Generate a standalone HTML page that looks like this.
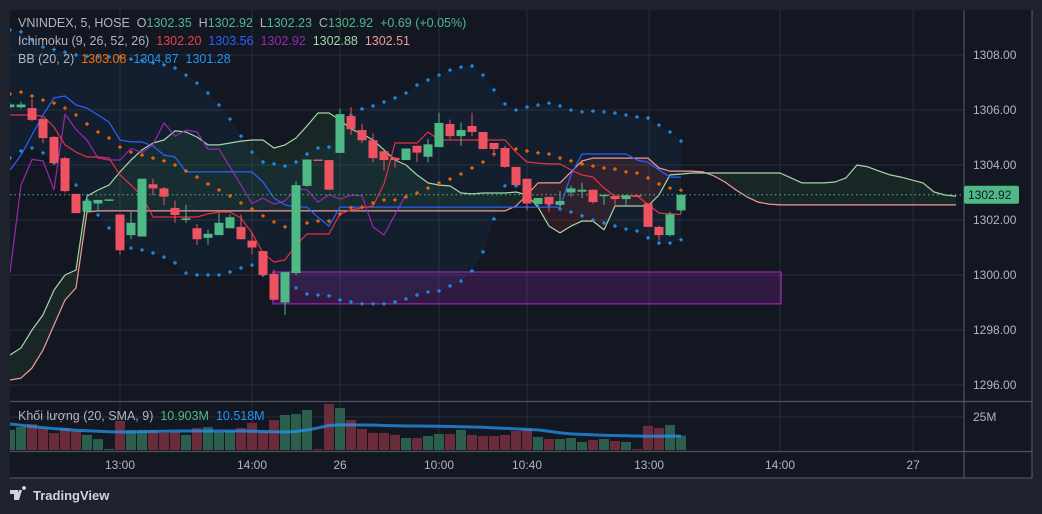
<!DOCTYPE html>
<html><head><meta charset="utf-8"><style>
html,body{margin:0;padding:0;background:#1e222d;width:1042px;height:514px;overflow:hidden}
svg{display:block;font-family:"Liberation Sans",sans-serif}
text{white-space:pre}
</style></head><body>
<svg id="c" width="1042" height="514" viewBox="0 0 1042 514" xmlns="http://www.w3.org/2000/svg">
<rect x="0" y="0" width="1042" height="514" fill="#1e222d"/>
<rect x="10" y="10" width="1022" height="468" fill="#131722"/>
<defs>
<clipPath id="pp"><rect x="10" y="10" width="954" height="391"/></clipPath>
<clipPath id="vp"><rect x="10" y="402" width="954" height="49"/></clipPath>
</defs>
<g id="grid"></g>
<g id="price" clip-path="url(#pp)"></g>
<g id="vol" clip-path="url(#vp)"></g>
<g id="axes"></g>
<g font-size="12.5">
<text x="18" y="27" fill="#b2b5be">VNINDEX, 5, HOSE  O<tspan fill="#4fb985">1302.35</tspan>  H<tspan fill="#4fb985">1302.92</tspan>  L<tspan fill="#4fb985">1302.23</tspan>  C<tspan fill="#4fb985">1302.92</tspan>  <tspan fill="#4fb985">+0.69 (+0.05%)</tspan></text>
<text x="18" y="45" fill="#b2b5be">Ichimoku (9, 26, 52, 26)  <tspan fill="#e8404f">1302.20</tspan>  <tspan fill="#2962ff">1303.56</tspan>  <tspan fill="#9c27b0">1302.92</tspan>  <tspan fill="#a5d6a7">1302.88</tspan>  <tspan fill="#ef9a9a">1302.51</tspan></text>
<text x="18" y="63" fill="#b2b5be">BB (20, 2)  <tspan fill="#ff6d00">1303.08</tspan>  <tspan fill="#2196f3">1304.87</tspan>  <tspan fill="#2196f3">1301.28</tspan></text>
<text x="18" y="420" fill="#b2b5be">Khối lượng (20, SMA, 9)  <tspan fill="#4fb985">10.903M</tspan>  <tspan fill="#2196f3">10.518M</tspan></text>
</g>
<g>
<path d="M10 490h8v10h-4v-6h-4z M19 490h3l-3 10h-3z M24 490a2 2 0 1 1 0.01 0z" fill="#d1d4dc"/>
<text x="33" y="500" fill="#d1d4dc" font-size="13" font-weight="bold">TradingView</text>
</g>
</svg>
<script>
const opens=[1306.1,1306.1,1306.07,1305.67,1305.02,1304.25,1302.95,1302.3,1302.6,1302.73,1302.2,1301.45,1301.4,1303.3,1303.15,1302.44,1302.0,1301.7,1301.35,1301.45,1301.7,1301.75,1301.25,1300.87,1300.04,1299.0,1300.07,1303.24,1304.2,1304.18,1304.44,1305.78,1305.27,1304.9,1304.5,1304.26,1304.18,1304.7,1304.3,1304.65,1305.49,1305.05,1305.42,1305.2,1304.8,1304.62,1303.93,1303.5,1302.58,1302.84,1302.55,1303.0,1303.03,1303.1,1302.9,1302.87,1302.76,1302.9,1302.6,1301.75,1301.45,1302.35];
const highs=[1306.25,1306.3,1306.4,1305.7,1305.05,1304.3,1302.95,1302.95,1302.73,1302.75,1302.2,1302.3,1303.5,1303.5,1303.2,1302.7,1302.55,1301.85,1301.65,1302.25,1302.2,1302.2,1301.55,1300.87,1300.2,1300.1,1303.42,1303.5,1304.2,1304.18,1306.05,1306.1,1305.5,1305.15,1304.5,1304.3,1304.6,1304.7,1304.95,1305.9,1305.65,1305.55,1305.9,1305.2,1304.8,1304.7,1303.93,1303.5,1302.8,1302.84,1303.05,1303.25,1303.35,1303.1,1302.9,1302.87,1302.9,1302.92,1302.6,1301.8,1302.3,1302.92];
const lows=[1306.05,1306.05,1305.6,1304.8,1304.05,1303.0,1302.25,1302.3,1302.3,1302.7,1300.75,1301.3,1301.4,1302.9,1302.55,1301.9,1301.9,1301.1,1301.1,1301.45,1301.7,1301.3,1300.75,1300.0,1299.1,1298.55,1300.0,1303.2,1304.15,1303.1,1304.44,1305.1,1304.8,1304.1,1303.8,1303.9,1304.18,1304.1,1304.1,1304.65,1304.95,1304.7,1305.05,1304.58,1304.3,1303.9,1303.27,1302.35,1302.45,1302.3,1302.5,1302.85,1302.8,1302.6,1302.55,1302.5,1302.55,1302.85,1301.75,1301.25,1301.4,1302.23];
const closes=[1306.2,1306.2,1305.64,1304.98,1304.07,1303.05,1302.25,1302.7,1302.73,1302.75,1300.9,1301.9,1303.5,1303.15,1302.85,1302.18,1302.06,1301.3,1301.5,1301.9,1302.1,1301.3,1301.0,1300.0,1299.1,1300.1,1303.27,1304.2,1304.15,1303.1,1305.85,1305.3,1304.9,1304.25,1304.18,1304.18,1304.6,1304.45,1304.75,1305.53,1305.05,1305.27,1305.2,1304.58,1304.58,1303.93,1303.27,1302.6,1302.8,1302.58,1302.69,1303.15,1303.1,1302.65,1302.92,1302.76,1302.9,1302.88,1301.75,1301.45,1302.2,1302.92];
const volumes=[15.2,17.4,19.7,16.7,12.9,16.7,14.4,11.4,8.3,0.8,22,15.2,15.2,15.2,12.9,13.6,11.4,16.7,17.4,13.6,14.4,16.7,20.5,13.6,22.7,26.5,27.3,30.3,0.8,34.9,31.8,22.7,15.9,12.9,12.9,11.4,9.1,9.1,10.6,12.1,12.1,15.2,11.4,10.6,10.6,11.4,14.4,15.9,9.9,8.3,8.3,9.1,6.1,7.6,8.3,6.8,6.1,0.8,18.2,16.7,19,10.9];
const volMA=[19.7,18.8,17.8,17,16.2,15.6,15,14.6,14.2,13.8,13.6,13.6,13.8,14,14.2,14.4,14.4,14.4,14.4,14.4,14.4,14.4,14.2,14,13.8,13.6,14,15.2,16.7,18.6,19,19,18.9,18.8,18.6,18.4,18.2,18.2,18.1,18,17.8,17.6,17.4,17.2,16.8,16.4,16,15.6,15.2,14.2,13,12.2,11.8,11.5,11.2,11,10.8,10.6,10.4,10.4,10.5,10.52];
const tenkan=[1305.82,1305.82,1305.82,1305.78,1305.38,1304.73,1304.47,1304.29,1304.29,1304.25,1303.64,1303.27,1302.87,1302.11,1302.11,1302.11,1302.11,1302.11,1302.22,1302.29,1302.29,1302.07,1301.53,1300.8,1300.47,1300.55,1301.09,1301.49,1301.49,1301.49,1302.22,1302.36,1302.44,1302.51,1303.31,1304.8,1304.8,1304.8,1305.2,1304.91,1304.91,1304.91,1304.91,1304.91,1304.91,1304.91,1304.47,1304.11,1304.07,1304.04,1304.04,1303.82,1303.64,1303.56,1303.16,1302.87,1302.87,1302.87,1302.58,1302.25,1302.22,1302.2];
const kijun=[1303.82,1304.36,1305.09,1305.82,1306.44,1306.51,1306.18,1306.07,1305.82,1305.56,1304.91,1304.84,1304.84,1304.69,1304.36,1304.29,1303.75,1303.75,1303.75,1303.75,1303.75,1303.75,1303.75,1303.38,1302.8,1302.55,1302.47,1302.47,1302.1,1301.78,1302.47,1302.47,1302.47,1302.47,1302.47,1302.47,1302.47,1302.47,1302.47,1302.47,1302.47,1302.47,1302.47,1302.47,1302.47,1302.47,1302.47,1302.47,1302.47,1302.47,1302.47,1303.64,1304.4,1304.4,1304.4,1304.4,1304.4,1304.18,1304.1,1303.82,1303.56,1303.56];
const spanA=[1297.09,1297.35,1298.0,1298.55,1299.45,1300.0,1300.18,1302.87,1303.09,1303.27,1303.75,1304.18,1304.55,1304.8,1304.91,1305.24,1305.2,1305.02,1304.73,1304.73,1304.8,1304.87,1304.91,1304.91,1304.62,1304.73,1304.98,1305.42,1305.89,1305.89,1305.64,1305.31,1305.13,1304.91,1304.55,1304.18,1304.0,1303.64,1303.35,1303.27,1303.24,1302.98,1302.95,1302.98,1302.98,1302.98,1303.02,1302.91,1302.47,1301.78,1301.53,1301.78,1301.96,1301.96,1301.64,1302.51,1302.51,1302.51,1302.51,1302.91,1303.64,1303.67,1303.71,1303.71,1303.71,1303.71,1303.71,1303.71,1303.71,1303.71,1303.71,1303.53,1303.35,1303.35,1303.35,1303.38,1303.53,1304.0,1303.93,1303.78,1303.64,1303.56,1303.45,1303.35,1303.02,1302.91,1302.87];
const spanB=[1296.18,1296.25,1296.62,1297.27,1298.18,1299.09,1299.53,1302.29,1302.33,1302.33,1302.33,1302.33,1302.33,1302.33,1302.33,1302.33,1302.33,1302.33,1302.33,1302.33,1302.33,1302.33,1302.33,1302.33,1302.33,1302.33,1302.33,1302.33,1302.33,1302.33,1302.33,1302.33,1302.33,1302.33,1302.33,1302.33,1302.33,1302.33,1302.33,1302.33,1302.33,1302.33,1302.33,1302.33,1302.33,1302.33,1302.51,1302.91,1303.35,1303.35,1303.35,1303.75,1304.15,1304.25,1304.25,1304.25,1304.25,1304.25,1304.25,1303.89,1303.78,1303.78,1303.78,1303.75,1303.6,1303.38,1303.09,1302.84,1302.65,1302.58,1302.55,1302.55,1302.55,1302.55,1302.55,1302.55,1302.55,1302.55,1302.55,1302.55,1302.55,1302.55,1302.55,1302.55,1302.55,1302.55,1302.55];
const bbUpper=[1308.91,1308.84,1308.55,1308.29,1308.2,1308.1,1308.0,1307.95,1307.93,1307.93,1307.93,1307.85,1307.8,1307.72,1307.64,1307.53,1307.27,1306.98,1306.62,1306.18,1305.67,1305.05,1304.47,1304.11,1304.04,1303.96,1304.11,1304.4,1304.62,1304.65,1305.27,1305.82,1306.04,1306.15,1306.29,1306.44,1306.62,1306.91,1307.09,1307.27,1307.45,1307.56,1307.6,1307.27,1306.73,1306.22,1306.0,1306.11,1306.18,1306.25,1306.15,1306.0,1305.93,1305.96,1305.93,1305.89,1305.82,1305.75,1305.71,1305.45,1305.2,1304.87];
const bbBasis=[1306.58,1306.65,1306.51,1306.36,1306.25,1306.07,1305.82,1305.49,1305.2,1304.98,1304.65,1304.47,1304.36,1304.25,1304.15,1304.0,1303.78,1303.56,1303.31,1303.09,1302.87,1302.62,1302.4,1302.15,1301.93,1301.75,1301.89,1301.89,1301.96,1301.96,1302.22,1302.44,1302.47,1302.62,1302.73,1302.73,1302.84,1302.98,1303.16,1303.35,1303.49,1303.67,1303.89,1304.11,1304.4,1304.51,1304.58,1304.51,1304.44,1304.4,1304.25,1304.15,1304.04,1303.96,1303.89,1303.85,1303.75,1303.71,1303.53,1303.31,1303.16,1303.08];
const bbLower=[1304.25,1304.51,1304.62,1304.44,1304.07,1303.64,1303.27,1302.73,1302.18,1301.71,1301.27,1300.98,1300.91,1300.8,1300.65,1300.44,1300.07,1300.0,1300.0,1300.0,1300.11,1300.25,1300.36,1300.0,1299.71,1299.56,1299.53,1299.31,1299.27,1299.24,1299.09,1299.02,1298.95,1298.95,1298.95,1299.02,1299.13,1299.27,1299.38,1299.42,1299.6,1299.78,1300.15,1300.84,1302.04,1303.24,1303.24,1302.91,1302.73,1302.55,1302.4,1302.29,1302.15,1302.0,1301.89,1301.78,1301.67,1301.6,1301.35,1301.16,1301.16,1301.28];
const boxRange=[23.9,70.1];
const boxPrices=[1300.11,1298.95];
const priceTicks=[1308,1306,1304,1302,1300,1298,1296];
const priceTickLabels=["1308.00","1306.00","1304.00","1302.00","1300.00","1298.00","1296.00"];
const timeTickIdx=[10,22,30,39,47,58.1,70,82.1];
const timeTickLabels=["13:00","14:00","26","10:00","10:40","13:00","14:00","27"];
const lastPrice=1302.92;
const volTick=25;

const NS="http://www.w3.org/2000/svg";
const X=i=>10+11*i;
const Y=p=>55+(1308-p)*27.5;
const VY=v=>450-v*33/25;
function mk(t,a,parent){const e=document.createElementNS(NS,t);for(const k in a)e.setAttribute(k,a[k]);parent.appendChild(e);return e;}
const grid=document.getElementById('grid'),price=document.getElementById('price'),vol=document.getElementById('vol'),axes=document.getElementById('axes');

priceTicks.forEach(p=>{const l=mk('line',{x1:10,x2:964,y1:Y(p),y2:Y(p),stroke:'#2a2e39','stroke-width':1},grid);

});
{const l=mk('line',{x1:10,x2:964,y1:VY(volTick),y2:VY(volTick),stroke:'#2a2e39'},grid);

}
timeTickIdx.forEach(i=>{const l=mk('line',{x1:X(i),x2:X(i),y1:10,y2:451,stroke:'#2a2e39'},grid);

});

function poly(arr,off){return arr.map((v,i)=>X(i+off).toFixed(1)+','+Y(v).toFixed(1)).join(' ');}
{const pts=bbUpper.map((v,i)=>X(i)+','+Y(v)).concat(bbLower.map((v,i)=>[X(i),Y(v)]).reverse().map(a=>a.join(','))).join(' ');
const f=mk('polygon',{points:pts,fill:'rgba(33,150,243,0.06)'},price);

}
for(let i=0;i<spanA.length-1;i++){const up=(spanA[i]+spanA[i+1])>=(spanB[i]+spanB[i+1]);
const q=mk('polygon',{points:`${X(i)},${Y(spanA[i])} ${X(i+1)},${Y(spanA[i+1])} ${X(i+1)},${Y(spanB[i+1])} ${X(i)},${Y(spanB[i])}`,fill:up?'rgba(67,160,71,0.12)':'rgba(244,67,54,0.12)'},price);

}
{const r=mk('rect',{x:X(boxRange[0]),y:Y(boxPrices[0]),width:X(boxRange[1])-X(boxRange[0]),height:Y(boxPrices[1])-Y(boxPrices[0]),fill:'rgba(156,39,176,0.22)',stroke:'#9c27b0','stroke-width':1.2},price);

}
function line(arr,off,color,name,w){const l=mk('polyline',{points:poly(arr,off),fill:'none',stroke:color,'stroke-width':w||1.2,'stroke-linejoin':'round'},price);

}
line(spanB,0,'#ef9a9a','leading-span-b');
line(spanA,0,'#a5d6a7','leading-span-a');
line(closes.slice(25),0,'#9c27b0','lagging-span');
line(kijun,0,'#2962ff','kijun-sen');
line(tenkan,0,'#e5323f','tenkan-sen');
{const l=mk('line',{x1:10,x2:964,y1:Y(lastPrice),y2:Y(lastPrice),stroke:'#4fb985','stroke-dasharray':'1.5,3','stroke-width':1},price);

}
function crosses(arr,color,name){arr.forEach((v,i)=>{const x=X(i),y=Y(v);
const c=mk('path',{d:`M${x-2} ${y}h4M${x} ${y-2}v4`,stroke:color,'stroke-width':1.2},price);

});}
crosses(bbUpper,'#2196f3','bb-upper-point');
crosses(bbLower,'#2196f3','bb-lower-point');
crosses(bbBasis,'#ff6d00','bb-basis-point');
opens.forEach((o,i)=>{const c=closes[i],up=c>=o,col=up?'#4fb985':'#ef5261',x=X(i);
const g=mk('g',{},price);


mk('line',{x1:x,x2:x,y1:Y(highs[i]),y2:Y(lows[i]),stroke:col,'stroke-width':1},g);
const t=Y(Math.max(o,c)),b=Y(Math.min(o,c));
mk('rect',{x:x-4.5,y:t,width:9,height:Math.max(1.5,b-t),fill:col},g);});
volumes.forEach((v,i)=>{const up=closes[i]>=opens[i];
const r=mk('rect',{x:X(i)-5,y:VY(v),width:10,height:450-VY(v),fill:up?'#2b5e4d':'#6a2c3b'},vol);

});
{const l=mk('polyline',{points:volMA.map((v,i)=>X(i)+','+VY(v)).join(' '),fill:'none',stroke:'rgba(33,150,243,0.75)','stroke-width':3},vol);

}
[[964,10,964,478],[10,401.5,1032,401.5],[10,451.5,1032,451.5],[10,478,1032,478],[1032,10,1032,478]].forEach(a=>{const l=mk('line',{x1:a[0],y1:a[1],x2:a[2],y2:a[3],stroke:'#50535e','stroke-width':1.2},axes);

});
priceTicks.forEach((p,k)=>{const t=mk('text',{x:973,y:Y(p)+4,fill:'#b2b5be','font-size':12},axes);t.textContent=priceTickLabels[k];

});
{const t=mk('text',{x:973,y:VY(volTick)+4,fill:'#b2b5be','font-size':12},axes);t.textContent=volTick+'M';

}
timeTickIdx.forEach((i,k)=>{const t=mk('text',{x:X(i),y:469,fill:'#b2b5be','font-size':12,'text-anchor':'middle'},axes);t.textContent=timeTickLabels[k];

});
{const g=mk('g',{},axes);


mk('rect',{x:964,y:Y(lastPrice)-9,width:55,height:18,rx:2,fill:'#4fb985'},g);
const t=mk('text',{x:968,y:Y(lastPrice)+4.5,fill:'#131722','font-size':12},g);t.textContent=lastPrice.toFixed(2);}
</script>
</body></html>
